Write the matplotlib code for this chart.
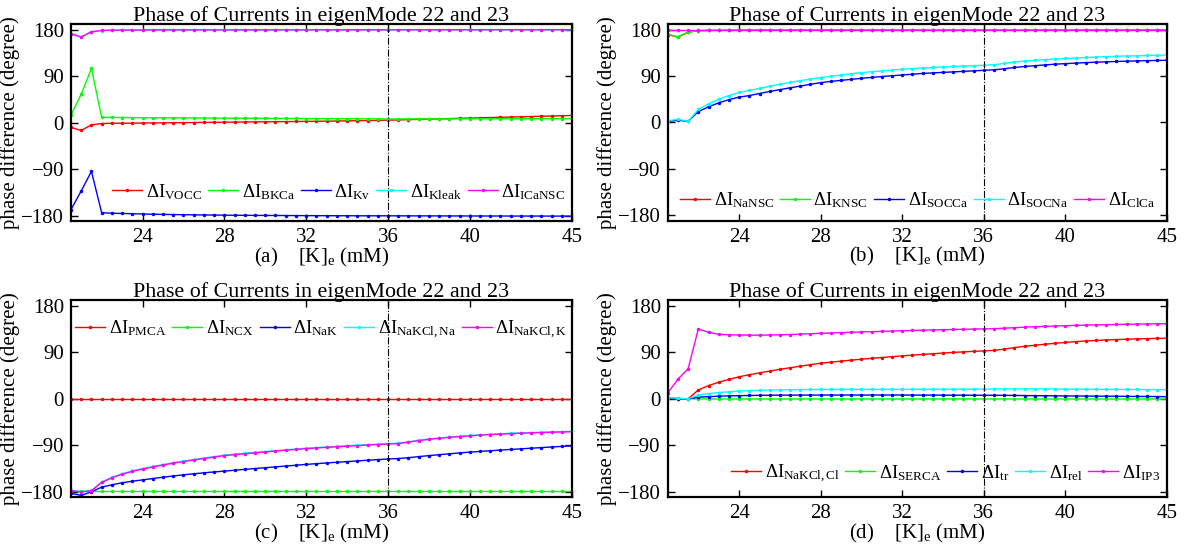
import numpy as np
import matplotlib
matplotlib.use("Agg")
import matplotlib.pyplot as plt

plt.rcParams['font.family'] = ['Liberation Serif', 'DejaVu Serif']
plt.rcParams['mathtext.fontset'] = 'custom'
plt.rcParams['mathtext.rm'] = 'Liberation Serif'
plt.rcParams['mathtext.it'] = 'Liberation Serif:italic'

# [K]e grid (mM)
K = np.arange(20.5, 45.01, 0.5)

# panel (a)
a_labels = ['VOCC', 'BKCa', 'Kv', 'Kleak', 'ICaNSC']
a_vocc = [-9, -15, -4, -1.5, -1, -1, -0.8, -0.6,
          -0.4, -0.2, 0, 0.2, 0.4, 0.6, 0.8, 1.0,
          1.2, 1.4, 1.6, 1.8, 2.0, 2.2, 2.4, 2.6,
          2.8, 3.0, 3.3, 3.6, 3.9, 4.2, 4.6, 5.0,
          5.4, 6.0, 6.5, 7.0, 7.5, 8.0, 8.5, 9.0,
          9.5, 10, 10.5, 11, 11.5, 12, 12.5, 13, 13.5, 14]
a_bkca = [15, 55, 105, 10.5, 10.3, 10.1, 9.9, 9.7,
          9.6, 9.5, 9.4, 9.3, 9.2, 9.1, 9.0, 8.9,
          8.8, 8.7, 8.6, 8.5, 8.4, 8.3, 8.2, 8.1,
          8.0, 7.9, 7.8, 7.7, 7.6, 7.5, 7.4, 7.3,
          7.3, 7.3, 7.3, 7.3, 7.4, 7.4, 7.5, 7.5,
          7.6, 7.6, 7.7, 7.7, 7.8, 7.8, 7.9, 7.9, 8.0, 8.0]
a_kv = [-168, -132, -94, -174, -175, -175.5, -176, -176.5,
        -177, -177.3, -177.6, -177.9, -178.2, -178.4, -178.6, -178.8,
        -179, -179.1, -179.2, -179.3, -179.4, -179.5, -179.6, -179.7,
        -179.8, -179.8, -179.9, -179.9, -180, -180, -180, -180,
        -180.1, -180.1, -180.2, -180.2, -180.2, -180.3, -180.3, -180.3,
        -180.4, -180.4, -180.4, -180.5, -180.5, -180.5, -180.5, -180.6, -180.6, -180.6]
a_kleak = [171.5, 165.5, 175.5, 178.2, 178.7, 178.9, 179.0, 179.1,
           179.2, 179.2, 179.2, 179.2, 179.3, 179.3, 179.3, 179.3,
           179.3, 179.3, 179.3, 179.3, 179.4, 179.4, 179.4, 179.4,
           179.4, 179.4, 179.4, 179.4, 179.4, 179.4, 179.4, 179.4,
           179.5, 179.5, 179.5, 179.5, 179.5, 179.5, 179.5, 179.5,
           179.5, 179.5, 179.5, 179.5, 179.5, 179.5, 179.5, 179.5, 179.5, 179.5]
a_icansc = [172, 166, 176, 178.5, 179, 179.2, 179.3, 179.4,
            179.5, 179.5, 179.5, 179.5, 179.5, 179.5, 179.5, 179.5,
            179.6, 179.6, 179.6, 179.6, 179.6, 179.6, 179.6, 179.6,
            179.7, 179.7, 179.7, 179.7, 179.7, 179.7, 179.7, 179.7,
            179.8, 179.8, 179.8, 179.8, 179.8, 179.8, 179.8, 179.8,
            179.9, 179.9, 179.9, 179.9, 179.9, 179.9, 179.9, 179.9, 180, 180]

# panel (b)
b_labels = ['NaNSC', 'KNSC', 'SOCCa', 'SOCNa', 'ClCa']
b_nansc = [170.5, 165.5, 175, 178, 178.5, 178.7, 178.8, 178.9,
           179, 179, 179, 179, 179, 179, 179, 179,
           179, 179, 179, 179, 179, 179, 179, 179,
           179, 179, 179, 179, 179, 179, 179, 179,
           179, 179, 179, 179, 179, 179, 179, 179,
           179, 179, 179, 179, 179, 179, 179, 179, 179, 179]
b_knsc = [171, 166, 175, 178, 178.5, 178.7, 178.8, 178.9,
          179, 179, 179, 179, 179, 179, 179, 179,
          179, 179, 179, 179, 179, 179, 179, 179,
          179, 179, 179, 179, 179, 179, 179, 179,
          179, 179, 179, 179, 179, 179, 179, 179,
          179, 179, 179, 179, 179, 179, 179, 179, 179, 179]
b_socca = [2, 4, 2, 21, 30, 38, 44, 49,
           52, 56, 60, 63.5, 67, 70.5, 74, 77,
           79.5, 81.5, 83.5, 85.5, 87.3, 89, 90.5, 92,
           93.5, 95, 96, 97, 98, 99, 100, 101,
           102, 104, 106.5, 108.5, 110, 111.5, 113, 114,
           115, 116, 116.8, 117.5, 118.2, 118.8, 119.3, 119.8, 120.2, 120.6]
b_socna = [3, 6, 2, 25, 36, 45, 52, 58,
           62, 66, 70, 74, 77.5, 81, 84, 87,
           89.5, 92, 94.5, 96.5, 98.3, 100, 101.5, 103,
           104.3, 105.5, 106.5, 107.5, 108.5, 109.3, 110, 110.8,
           112, 114.5, 117, 119, 120.5, 122, 123, 124,
           125, 126, 126.8, 127.5, 128.2, 128.8, 129.3, 129.8, 130.2, 130.6]
b_clca = [180] * 50

# panel (c)
c_labels = ['PMCA', 'NCX', 'NaK', 'NaKCl,Na', 'NaKCl,K']
c_pmca = [0] * 50
c_ncx = [-179] * 50
c_nak = [-183, -187, -180, -171, -166.5, -162.5, -159.5, -157,
         -154.3, -151.8, -149.4, -147.2, -145.2, -143.3, -141.6, -140,
         -138.3, -136.6, -135, -133.4, -131.8, -130.2, -128.6, -127,
         -125.6, -124.2, -122.9, -121.6, -120.3, -119, -117.7, -116.5,
         -115.7, -114, -112, -110, -108.2, -106.5, -104.8, -103.2,
         -101.9, -100.6, -99.3, -98.1, -96.9, -95.7, -94.5, -93.3, -92.2, -91.1]
c_nakcl_na = [-177.5, -179.5, -177.5, -161, -152, -145, -139.5, -135,
              -131, -127.3, -123.8, -120.6, -117.6, -114.8, -112, -109.3,
              -107.3, -105.5, -103.8, -102.1, -100.4, -98.8, -97.2, -95.7,
              -94.4, -93.2, -92.1, -91, -89.9, -88.8, -87.8, -86.8,
              -86, -83.2, -80.3, -77.9, -75.9, -74.1, -72.5, -71,
              -69.8, -68.7, -67.7, -66.8, -66, -65.3, -64.7, -64.1, -63.6, -63.1]
c_nakcl_k = [-178, -180, -178, -162, -153, -146, -140.5, -136,
             -132, -128.2, -124.7, -121.5, -118.5, -115.7, -112.8, -110,
             -108, -106.3, -104.6, -102.9, -101.2, -99.6, -98, -96.5,
             -95.2, -94, -92.9, -91.8, -90.7, -89.6, -88.6, -87.6,
             -86.8, -84, -81, -78.6, -76.6, -74.8, -73.2, -71.7,
             -70.5, -69.4, -68.4, -67.5, -66.7, -66, -65.4, -64.8, -64.3, -63.8]

# panel (d)
d_labels = ['NaKCl,Cl', 'SERCA', 'tr', 'rel', 'IP3']
d_nakcl_cl = [1, 0, 0, 17, 25.5, 32, 37.5, 42.5,
              46.5, 50, 53.5, 57, 60, 63, 66, 68.8,
              70.8, 72.8, 74.7, 76.5, 78.2, 79.8, 81.4, 83,
              84.4, 85.8, 87.1, 88.4, 89.6, 90.7, 91.7, 92.6,
              93.6, 96, 99, 101.5, 103.5, 105.5, 107.3, 109,
              110.5, 111.8, 112.8, 113.7, 114.5, 115.2, 115.8, 116.3, 116.8, 117.2]
d_serca = [1, 0.5, 0, -0.3, -0.4] + [-0.5] * 45
d_tr = [1, 0, 0, 3, 4, 5, 5.5, 6,
        6.3, 6.6, 6.8, 7, 7, 7.1, 7.1, 7.2,
        7.2, 7.2, 7.2, 7.2, 7.2, 7.2, 7.2, 7.2,
        7.1, 7.1, 7, 7, 6.9, 6.9, 6.8, 6.8,
        6.7, 6.6, 6.4, 6.2, 6, 5.8, 5.6, 5.4,
        5.3, 5.2, 5.0, 4.9, 4.8, 4.6, 4.5, 4.4, 4.2, 4.0]
d_rel = [2, 1, 0, 7, 10, 12, 13.5, 15,
         15.7, 16.3, 16.8, 17.2, 17.5, 17.7, 17.9, 18,
         18.1, 18.1, 18.2, 18.2, 18.2, 18.3, 18.3, 18.3,
         18.4, 18.4, 18.5, 18.5, 18.5, 18.6, 18.6, 18.6,
         18.8, 19, 19.1, 19.1, 19, 18.9, 18.8, 18.7,
         18.6, 18.5, 18.3, 18.2, 18.1, 18, 17.9, 17.8, 17.7, 17.6]
d_ip3 = [11, 38, 58, 135, 128.5, 124.7, 123.8, 123.3,
         123, 123, 123.3, 123.7, 124.3, 125, 125.8, 126.6,
         127.3, 128, 128.6, 129.2, 129.8, 130.4, 131, 131.6,
         132.1, 132.6, 133.1, 133.6, 134, 134.4, 134.8, 135.2,
         135.5, 136.5, 137.5, 138.5, 139.3, 140, 140.7, 141.3,
         141.9, 142.4, 142.9, 143.3, 143.7, 144.1, 144.4, 144.7, 145, 145.2]

# MATLAB-style pure colours
colors = ['#ff0000', '#00ff00', '#0000ff', '#00ffff', '#ff00ff']

panels = [
    ('(a)', [0.0599, 0.5973, 0.4228, 0.3591], a_labels,
     [a_vocc, a_bkca, a_kv, a_kleak, a_icansc], (0.535, 0.15)),
    ('(b)', [0.5635, 0.5987, 0.4216, 0.3577], b_labels,
     [b_nansc, b_knsc, b_socca, b_socna, b_clca], (0.50, 0.105)),
    ('(c)', [0.0599, 0.0955, 0.4228, 0.3590], c_labels,
     [c_pmca, c_ncx, c_nak, c_nakcl_na, c_nakcl_k], (0.50, 0.85)),
    ('(d)', [0.5635, 0.0955, 0.4216, 0.3590], d_labels,
     [d_nakcl_cl, d_serca, d_tr, d_rel, d_ip3], (0.556, 0.12)),
]

fig = plt.figure(figsize=(11.85, 5.5), dpi=100)

for tag, rect, labels, series, leg_pos in panels:
    ax = fig.add_axes(rect)
    for lab, ys, col in zip(labels, series, colors):
        ax.plot(K, ys, color=col, lw=1.0, marker='.', markersize=3,
                label='ΔI$_{\\mathrm{' + lab + '}}$')
    ax.axvline(36, color='k', lw=0.8, linestyle='-.')
    ax.set_xlim(20.5, 45)
    ax.set_ylim(-191, 191)
    ax.set_xticks([24, 28, 32, 36, 40, 45])
    ax.set_yticks([-180, -90, 0, 90, 180])
    ax.tick_params(direction='in', top=True, right=True, length=5,
                   width=1, labelsize=15, pad=5)
    for sp in ax.spines.values():
        sp.set_linewidth(1.6)
    ax.set_title('Phase of Currents in eigenMode 22 and 23', fontsize=15.8, pad=2)
    ax.set_xlabel(tag + '    [K]$_{\\mathrm{e}}$ (mM)', fontsize=15, labelpad=-1)
    ax.set_ylabel('phase difference (degree)', fontsize=15, labelpad=1)
    ax.legend(loc='center', bbox_to_anchor=leg_pos, ncol=5, frameon=False,
              fontsize=13.5, handlelength=1.6, handletextpad=0.2,
              columnspacing=0.3, borderpad=0.1)

fig.savefig('out.png', dpi=100)
